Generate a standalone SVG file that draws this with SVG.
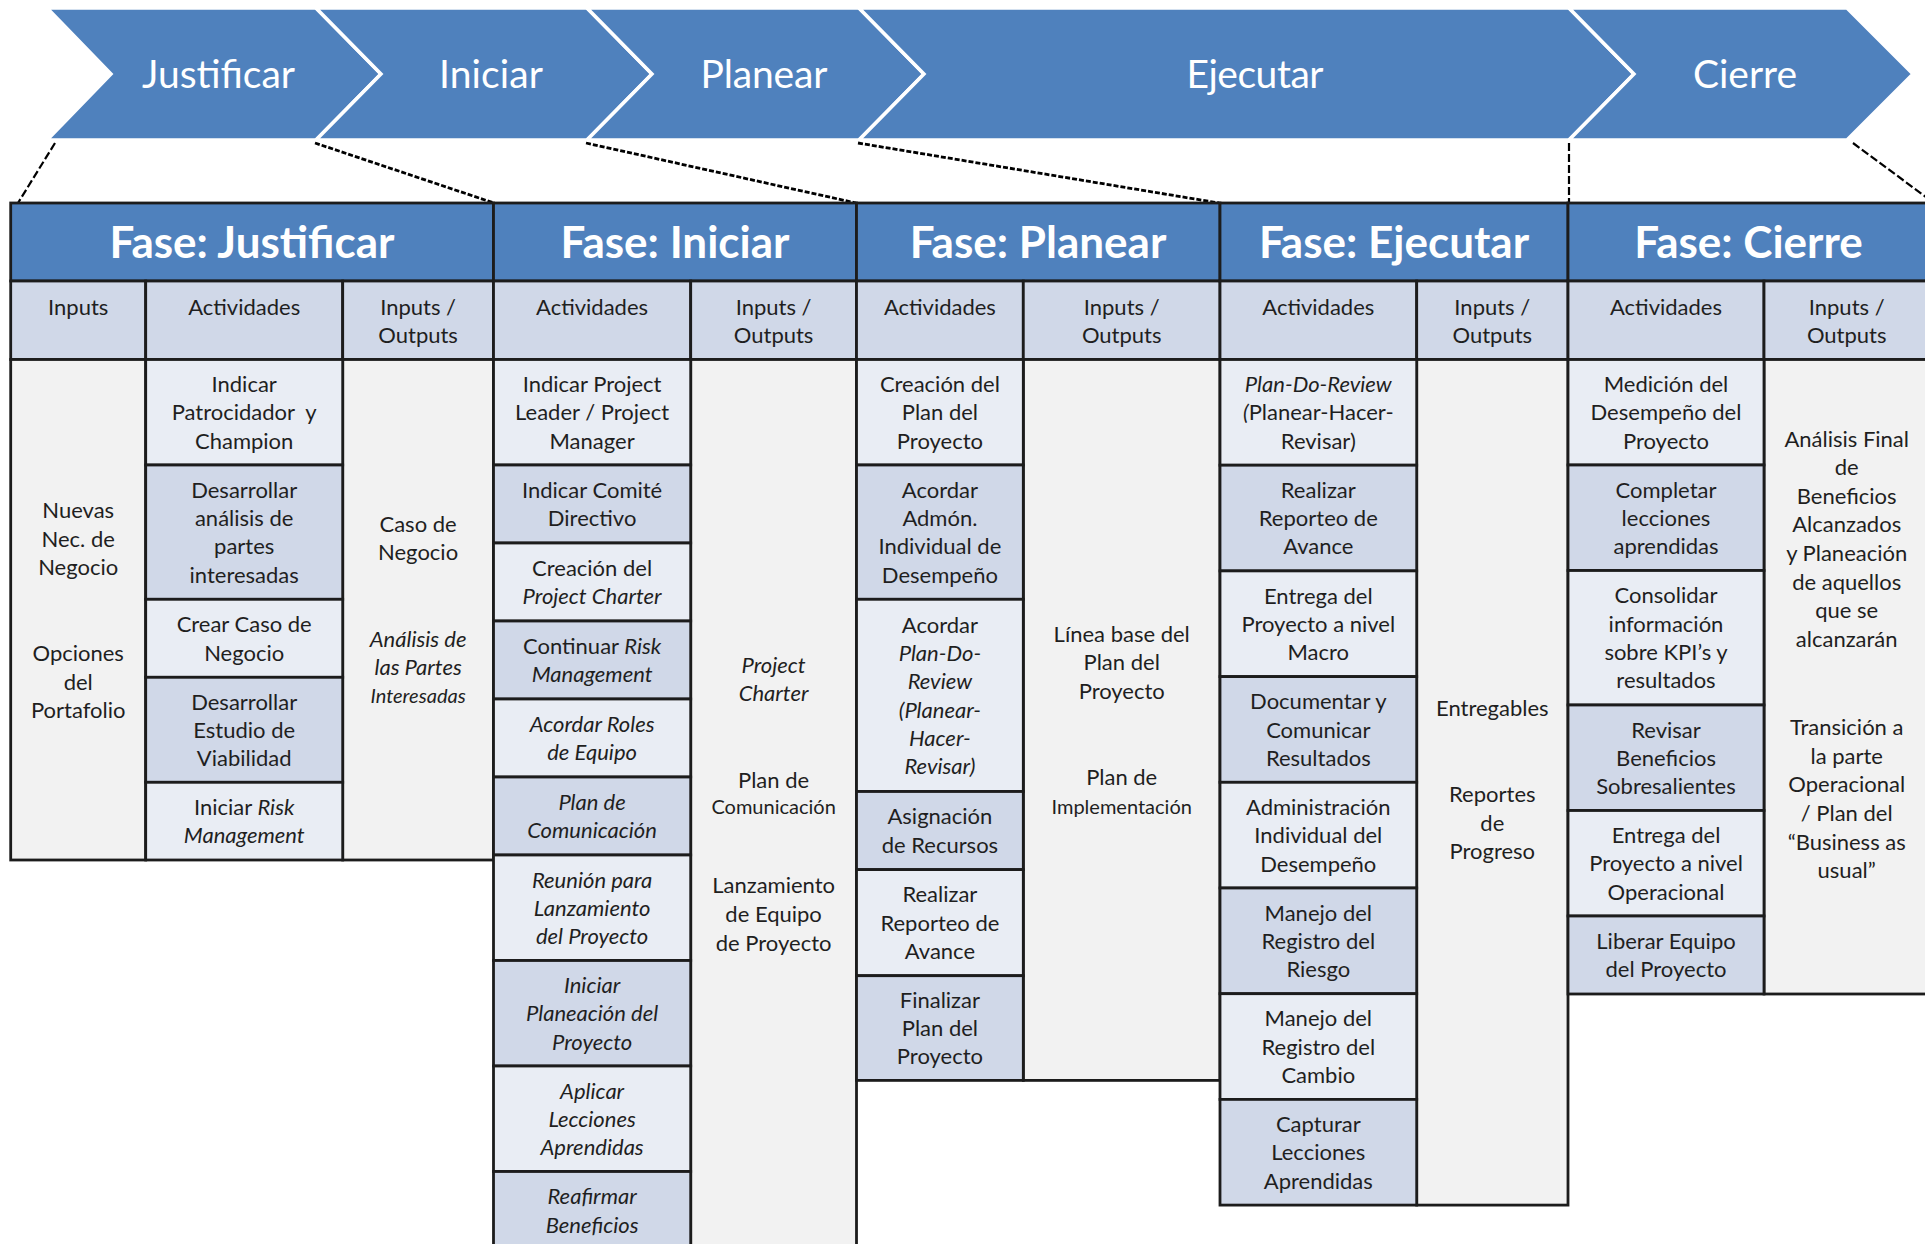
<svg xmlns="http://www.w3.org/2000/svg" width="1925" height="1244" viewBox="0 0 1925 1244">
<style>
  .chev{fill:#4F81BD;stroke:#FFFFFF;stroke-width:3.5;stroke-linejoin:miter}
  .chev-t{font-family:Lato,'Open Sans',sans-serif;font-weight:400;font-size:39px;fill:#FFFFFF;text-anchor:middle}
  .hdr{fill:#4F81BD}
  .ttl{font-family:Lato,'Open Sans',sans-serif;font-weight:700;font-size:44px;fill:#FFFFFF;text-anchor:middle}
  .sub{fill:#D0D8E8}
  .lt{fill:#E9EDF4}
  .dk{fill:#D0D8E8}
  .gr{fill:#F2F2F2}
  .cell{stroke:#1C1C1C;stroke-width:2.8}
  .tx{font-family:Lato,'Open Sans',sans-serif;font-size:22px;fill:#1F1F1F;text-anchor:middle}
  .it{font-style:italic}
  .sm{font-size:20px}
  .dl{fill:none;stroke:#000000;stroke-width:2.2;stroke-dasharray:8 3}
  .dd{fill:none;stroke:#000000;stroke-width:2.8;stroke-dasharray:5 2}
</style>

<!-- phase chevrons -->
<g id="chevrons">
  <g id="chev-justificar">
    <polygon class="chev" points="47,8 316,8 381,74 316,140 47,140 111,74"/>
    <text class="chev-t" x="218.5" y="88" textLength="153">Justificar</text>
  </g>
  <g id="chev-iniciar">
    <polygon class="chev" points="316,8 587,8 652,74 587,140 316,140 381,74"/>
    <text class="chev-t" x="491" y="88" textLength="104">Iniciar</text>
  </g>
  <g id="chev-planear">
    <polygon class="chev" points="587,8 859,8 924,74 859,140 587,140 652,74"/>
    <text class="chev-t" x="764" y="88" textLength="127">Planear</text>
  </g>
  <g id="chev-ejecutar">
    <polygon class="chev" points="859,8 1569,8 1634,74 1569,140 859,140 924,74"/>
    <text class="chev-t" x="1255" y="88" textLength="137">Ejecutar</text>
  </g>
  <g id="chev-cierre">
    <polygon class="chev" points="1569,8 1847,8 1913,74 1847,140 1569,140 1634,74"/>
    <text class="chev-t" x="1745" y="88" textLength="104">Cierre</text>
  </g>
</g>

<!-- dashed guides from each chevron down to its table block -->
<g id="connectors">
  <path class="dl" d="M55,143 L18,203"/>
  <path class="dd" d="M315,143 L494,203"/>
  <path class="dd" d="M586,143 L856,203"/>
  <path class="dd" d="M858,143 L1219,203"/>
  <path class="dl" d="M1569,143 L1569,203"/>
  <path class="dl" d="M1853,143 L1934,203"/>
</g>

<!-- Fase: Justificar -->
<g id="fase-justificar">
  <rect class="hdr cell" x="10.7" y="203" width="482.8" height="78"/>
  <text class="ttl" x="252" y="258">Fase: Justificar</text>
  <rect class="sub cell" x="10.7" y="281" width="135" height="78.5"/>
  <rect class="sub cell" x="145.7" y="281" width="197" height="78.5"/>
  <rect class="sub cell" x="342.7" y="281" width="150.8" height="78.5"/>
  <text class="tx" x="78.2" y="315">Inputs</text>
  <text class="tx" x="244.2" y="315">Actividades</text>
  <text class="tx" x="418.1" y="315">Inputs /<tspan x="418.1" y="343">Outputs</tspan></text>
  <g id="j-inputs">
    <rect class="gr cell" x="10.7" y="359.5" width="135" height="500.5"/>
    <text class="tx" x="78.2" y="518.3">Nuevas<tspan x="78.2" y="546.6">Nec. de</tspan><tspan x="78.2" y="575">Negocio</tspan><tspan x="78.2" y="661">Opciones</tspan><tspan x="78.2" y="689.5">del</tspan><tspan x="78.2" y="718">Portafolio</tspan></text>
  </g>
  <g id="j-io">
    <rect class="gr cell" x="342.7" y="359.5" width="150.8" height="500.5"/>
    <text class="tx" x="418.1" y="531.7">Caso de<tspan x="418.1" y="559.5">Negocio</tspan><tspan class="it" x="418.1" y="646.7">Análisis de</tspan><tspan class="it" x="418.1" y="674.5">las Partes</tspan><tspan class="it sm" x="418.1" y="703">Interesadas</tspan></text>
  </g>
  <g id="j-a1"><rect class="lt cell" x="145.7" y="359.5" width="197" height="105.5"/>
    <text class="tx" x="244.2" y="392">Indicar<tspan x="244.2" y="420.3">Patrocidador&#160; y</tspan><tspan x="244.2" y="448.6">Champion</tspan></text></g>
  <g id="j-a2"><rect class="dk cell" x="145.7" y="465" width="197" height="134.3"/>
    <text class="tx" x="244.2" y="497.7">Desarrollar<tspan x="244.2" y="526">análisis de</tspan><tspan x="244.2" y="554.3">partes</tspan><tspan x="244.2" y="582.6">interesadas</tspan></text></g>
  <g id="j-a3"><rect class="lt cell" x="145.7" y="599.3" width="197" height="78"/>
    <text class="tx" x="244.2" y="632.2">Crear Caso de<tspan x="244.2" y="660.5">Negocio</tspan></text></g>
  <g id="j-a4"><rect class="dk cell" x="145.7" y="677.3" width="197" height="105"/>
    <text class="tx" x="244.2" y="709.5">Desarrollar<tspan x="244.2" y="737.8">Estudio de</tspan><tspan x="244.2" y="766.1">Viabilidad</tspan></text></g>
  <g id="j-a5"><rect class="lt cell" x="145.7" y="782.3" width="197" height="77.7"/>
    <text class="tx" x="244.2" y="815">Iniciar <tspan class="it">Risk</tspan><tspan class="it" x="244.2" y="843.3">Management</tspan></text></g>
</g>

<!-- Fase: Iniciar -->
<g id="fase-iniciar">
  <rect class="hdr cell" x="493.5" y="203" width="363" height="78"/>
  <text class="ttl" x="675" y="258">Fase: Iniciar</text>
  <rect class="sub cell" x="493.5" y="281" width="197.2" height="78.5"/>
  <rect class="sub cell" x="690.7" y="281" width="165.8" height="78.5"/>
  <text class="tx" x="592.1" y="315">Actividades</text>
  <text class="tx" x="773.6" y="315">Inputs /<tspan x="773.6" y="343">Outputs</tspan></text>
  <g id="i-io">
    <rect class="gr cell" x="690.7" y="359.5" width="165.8" height="890"/>
    <text class="tx" x="773.6" y="672.5"><tspan class="it">Project</tspan><tspan class="it" x="773.6" y="701">Charter</tspan><tspan x="773.6" y="788">Plan de</tspan><tspan class="sm" x="773.6" y="813.8">Comunicación</tspan><tspan x="773.6" y="893">Lanzamiento</tspan><tspan x="773.6" y="922">de Equipo</tspan><tspan x="773.6" y="950.5">de Proyecto</tspan></text>
  </g>
  <g id="i-a1"><rect class="lt cell" x="493.5" y="359.5" width="197.2" height="105.5"/>
    <text class="tx" x="592.1" y="392">Indicar Project<tspan x="592.1" y="420.3">Leader / Project</tspan><tspan x="592.1" y="448.6">Manager</tspan></text></g>
  <g id="i-a2"><rect class="dk cell" x="493.5" y="465" width="197.2" height="78"/>
    <text class="tx" x="592.1" y="497.9">Indicar Comité<tspan x="592.1" y="526.2">Directivo</tspan></text></g>
  <g id="i-a3"><rect class="lt cell" x="493.5" y="543" width="197.2" height="78"/>
    <text class="tx" x="592.1" y="575.9">Creación del<tspan class="it" x="592.1" y="604.2">Project Charter</tspan></text></g>
  <g id="i-a4"><rect class="dk cell" x="493.5" y="621" width="197.2" height="78"/>
    <text class="tx" x="592.1" y="653.9">Continuar <tspan class="it">Risk</tspan><tspan class="it" x="592.1" y="682.2">Management</tspan></text></g>
  <g id="i-a5"><rect class="lt cell" x="493.5" y="699" width="197.2" height="78"/>
    <text class="tx it" x="592.1" y="731.9">Acordar Roles<tspan x="592.1" y="760.2">de Equipo</tspan></text></g>
  <g id="i-a6"><rect class="dk cell" x="493.5" y="777" width="197.2" height="78"/>
    <text class="tx it" x="592.1" y="809.9">Plan de<tspan x="592.1" y="838.2">Comunicación</tspan></text></g>
  <g id="i-a7"><rect class="lt cell" x="493.5" y="855" width="197.2" height="105.5"/>
    <text class="tx it" x="592.1" y="887.5">Reunión para<tspan x="592.1" y="915.8">Lanzamiento</tspan><tspan x="592.1" y="944.1">del Proyecto</tspan></text></g>
  <g id="i-a8"><rect class="dk cell" x="493.5" y="960.5" width="197.2" height="105.5"/>
    <text class="tx it" x="592.1" y="993">Iniciar<tspan x="592.1" y="1021.3">Planeación del</tspan><tspan x="592.1" y="1049.6">Proyecto</tspan></text></g>
  <g id="i-a9"><rect class="lt cell" x="493.5" y="1066" width="197.2" height="105.5"/>
    <text class="tx it" x="592.1" y="1098.5">Aplicar<tspan x="592.1" y="1126.8">Lecciones</tspan><tspan x="592.1" y="1155.1">Aprendidas</tspan></text></g>
  <g id="i-a10"><rect class="dk cell" x="493.5" y="1171.5" width="197.2" height="78"/>
    <text class="tx it" x="592.1" y="1204.4">Reafirmar<tspan x="592.1" y="1232.7">Beneficios</tspan></text></g>
</g>

<!-- Fase: Planear -->
<g id="fase-planear">
  <rect class="hdr cell" x="856.5" y="203" width="363.5" height="78"/>
  <text class="ttl" x="1038" y="258">Fase: Planear</text>
  <rect class="sub cell" x="856.5" y="281" width="166.8" height="78.5"/>
  <rect class="sub cell" x="1023.3" y="281" width="196.7" height="78.5"/>
  <text class="tx" x="939.9" y="315">Actividades</text>
  <text class="tx" x="1121.7" y="315">Inputs /<tspan x="1121.7" y="343">Outputs</tspan></text>
  <g id="p-io">
    <rect class="gr cell" x="1023.3" y="359.5" width="196.7" height="720.9"/>
    <text class="tx" x="1121.7" y="641.5">Línea base del<tspan x="1121.7" y="669.8">Plan del</tspan><tspan x="1121.7" y="698.5">Proyecto</tspan><tspan x="1121.7" y="785">Plan de</tspan><tspan class="sm" x="1121.7" y="813.8">Implementación</tspan></text>
  </g>
  <g id="p-a1"><rect class="lt cell" x="856.5" y="359.5" width="166.8" height="105.5"/>
    <text class="tx" x="939.9" y="392">Creación del<tspan x="939.9" y="420.3">Plan del</tspan><tspan x="939.9" y="448.6">Proyecto</tspan></text></g>
  <g id="p-a2"><rect class="dk cell" x="856.5" y="465" width="166.8" height="134.3"/>
    <text class="tx" x="939.9" y="497.7">Acordar<tspan x="939.9" y="526">Admón.</tspan><tspan x="939.9" y="554.3">Individual de</tspan><tspan x="939.9" y="582.6">Desempeño</tspan></text></g>
  <g id="p-a3"><rect class="lt cell" x="856.5" y="599.3" width="166.8" height="192.2"/>
    <text class="tx" x="939.9" y="632.7">Acordar<tspan class="it" x="939.9" y="661">Plan-Do-</tspan><tspan class="it" x="939.9" y="689.3">Review</tspan><tspan class="it" x="939.9" y="717.6">(Planear-</tspan><tspan class="it" x="939.9" y="745.9">Hacer-</tspan><tspan class="it" x="939.9" y="774.2">Revisar)</tspan></text></g>
  <g id="p-a4"><rect class="dk cell" x="856.5" y="791.5" width="166.8" height="78.1"/>
    <text class="tx" x="939.9" y="824.4">Asignación<tspan x="939.9" y="852.7">de Recursos</tspan></text></g>
  <g id="p-a5"><rect class="lt cell" x="856.5" y="869.6" width="166.8" height="106.1"/>
    <text class="tx" x="939.9" y="902.4">Realizar<tspan x="939.9" y="930.7">Reporteo de</tspan><tspan x="939.9" y="959">Avance</tspan></text></g>
  <g id="p-a6"><rect class="dk cell" x="856.5" y="975.7" width="166.8" height="104.7"/>
    <text class="tx" x="939.9" y="1007.8">Finalizar<tspan x="939.9" y="1036.1">Plan del</tspan><tspan x="939.9" y="1064.4">Proyecto</tspan></text></g>
</g>

<!-- Fase: Ejecutar -->
<g id="fase-ejecutar">
  <rect class="hdr cell" x="1220" y="203" width="348" height="78"/>
  <text class="ttl" x="1394" y="258">Fase: Ejecutar</text>
  <rect class="sub cell" x="1220" y="281" width="196.7" height="78.5"/>
  <rect class="sub cell" x="1416.7" y="281" width="151.3" height="78.5"/>
  <text class="tx" x="1318.3" y="315">Actividades</text>
  <text class="tx" x="1492.3" y="315">Inputs /<tspan x="1492.3" y="343">Outputs</tspan></text>
  <g id="e-io">
    <rect class="gr cell" x="1416.7" y="359.5" width="151.3" height="845.6"/>
    <text class="tx" x="1492.3" y="716.3">Entregables<tspan x="1492.3" y="801.5">Reportes</tspan><tspan x="1492.3" y="830.5">de</tspan><tspan x="1492.3" y="858.5">Progreso</tspan></text>
  </g>
  <g id="e-a1"><rect class="lt cell" x="1220" y="359.5" width="196.7" height="105.7"/>
    <text class="tx" x="1318.3" y="392"><tspan class="it">Plan-Do-Review</tspan><tspan x="1318.3" y="420.3"><tspan class="it">(</tspan>Planear-Hacer-</tspan><tspan x="1318.3" y="448.6">Revisar)</tspan></text></g>
  <g id="e-a2"><rect class="dk cell" x="1220" y="465.2" width="196.7" height="105.7"/>
    <text class="tx" x="1318.3" y="497.8">Realizar<tspan x="1318.3" y="526.1">Reporteo de</tspan><tspan x="1318.3" y="554.4">Avance</tspan></text></g>
  <g id="e-a3"><rect class="lt cell" x="1220" y="570.9" width="196.7" height="105.7"/>
    <text class="tx" x="1318.3" y="603.5">Entrega del<tspan x="1318.3" y="631.8">Proyecto a nivel</tspan><tspan x="1318.3" y="660.1">Macro</tspan></text></g>
  <g id="e-a4"><rect class="dk cell" x="1220" y="676.6" width="196.7" height="105.7"/>
    <text class="tx" x="1318.3" y="709.2">Documentar y<tspan x="1318.3" y="737.5">Comunicar</tspan><tspan x="1318.3" y="765.8">Resultados</tspan></text></g>
  <g id="e-a5"><rect class="lt cell" x="1220" y="782.3" width="196.7" height="105.7"/>
    <text class="tx" x="1318.3" y="814.9">Administración<tspan x="1318.3" y="843.2">Individual del</tspan><tspan x="1318.3" y="871.5">Desempeño</tspan></text></g>
  <g id="e-a6"><rect class="dk cell" x="1220" y="888" width="196.7" height="105.7"/>
    <text class="tx" x="1318.3" y="920.6">Manejo del<tspan x="1318.3" y="948.9">Registro del</tspan><tspan x="1318.3" y="977.2">Riesgo</tspan></text></g>
  <g id="e-a7"><rect class="lt cell" x="1220" y="993.7" width="196.7" height="105.7"/>
    <text class="tx" x="1318.3" y="1026.3">Manejo del<tspan x="1318.3" y="1054.6">Registro del</tspan><tspan x="1318.3" y="1082.9">Cambio</tspan></text></g>
  <g id="e-a8"><rect class="dk cell" x="1220" y="1099.4" width="196.7" height="105.7"/>
    <text class="tx" x="1318.3" y="1132">Capturar<tspan x="1318.3" y="1160.3">Lecciones</tspan><tspan x="1318.3" y="1188.6">Aprendidas</tspan></text></g>
</g>

<!-- Fase: Cierre -->
<g id="fase-cierre">
  <rect class="hdr cell" x="1568" y="203" width="361" height="78"/>
  <text class="ttl" x="1748.5" y="258">Fase: Cierre</text>
  <rect class="sub cell" x="1568" y="281" width="196" height="78.5"/>
  <rect class="sub cell" x="1764" y="281" width="165" height="78.5"/>
  <text class="tx" x="1666" y="315">Actividades</text>
  <text class="tx" x="1846.7" y="315">Inputs /<tspan x="1846.7" y="343">Outputs</tspan></text>
  <g id="c-io">
    <rect class="gr cell" x="1764" y="359.5" width="165" height="634.5"/>
    <text class="tx" x="1846.7" y="447">Análisis Final<tspan x="1846.7" y="475">de</tspan><tspan x="1846.7" y="503.8">Beneficios</tspan><tspan x="1846.7" y="532">Alcanzados</tspan><tspan x="1846.7" y="561">y Planeación</tspan><tspan x="1846.7" y="589.5">de aquellos</tspan><tspan x="1846.7" y="618">que se</tspan><tspan x="1846.7" y="646.5">alcanzarán</tspan><tspan x="1846.7" y="735">Transición a</tspan><tspan x="1846.7" y="763.5">la parte</tspan><tspan x="1846.7" y="792">Operacional</tspan><tspan x="1846.7" y="820.5">/ Plan del</tspan><tspan x="1846.7" y="849.7">“Business as</tspan><tspan x="1846.7" y="878">usual”</tspan></text>
  </g>
  <g id="c-a1"><rect class="lt cell" x="1568" y="359.5" width="196" height="105.5"/>
    <text class="tx" x="1666" y="392">Medición del<tspan x="1666" y="420.3">Desempeño del</tspan><tspan x="1666" y="448.6">Proyecto</tspan></text></g>
  <g id="c-a2"><rect class="dk cell" x="1568" y="465" width="196" height="105.5"/>
    <text class="tx" x="1666" y="497.5">Completar<tspan x="1666" y="525.8">lecciones</tspan><tspan x="1666" y="554.1">aprendidas</tspan></text></g>
  <g id="c-a3"><rect class="lt cell" x="1568" y="570.5" width="196" height="134.5"/>
    <text class="tx" x="1666" y="603.3">Consolidar<tspan x="1666" y="631.6">información</tspan><tspan x="1666" y="659.9">sobre KPI’s y</tspan><tspan x="1666" y="688.2">resultados</tspan></text></g>
  <g id="c-a4"><rect class="dk cell" x="1568" y="705" width="196" height="105.5"/>
    <text class="tx" x="1666" y="737.5">Revisar<tspan x="1666" y="765.8">Beneficios</tspan><tspan x="1666" y="794.1">Sobresalientes</tspan></text></g>
  <g id="c-a5"><rect class="lt cell" x="1568" y="810.5" width="196" height="105.5"/>
    <text class="tx" x="1666" y="843">Entrega del<tspan x="1666" y="871.3">Proyecto a nivel</tspan><tspan x="1666" y="899.6">Operacional</tspan></text></g>
  <g id="c-a6"><rect class="dk cell" x="1568" y="916" width="196" height="78"/>
    <text class="tx" x="1666" y="948.9">Liberar Equipo<tspan x="1666" y="977.2">del Proyecto</tspan></text></g>
</g>
</svg>
